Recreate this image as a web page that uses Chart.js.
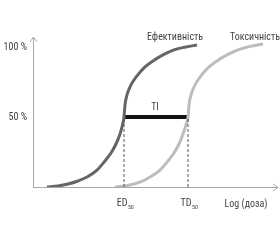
<!DOCTYPE html>
<html>
<head>
<meta charset="utf-8">
<script src="https://cdn.jsdelivr.net/npm/chart.js@4"></script>
<style>
  html, body { margin: 0; padding: 0; background: #fff; }
  #wrap { width: 280px; height: 240px; position: relative; }
</style>
</head>
<body>
<div id="wrap"><canvas id="chart"></canvas></div>
<script>
// --- Dados (log доза, % ефекту) ---
const efficacyX = [1.4, 2.5, 3.5, 4.5, 5.4, 6.4, 7.2, 7.8, 8.3, 8.7, 8.95, 9.1,
                   9.2, 9.4, 9.8, 10.4, 11.1, 12.0, 13.0, 14.1, 15.3, 16.4];
const efficacyY = [0, 0.7, 2.1, 4.3, 7.1, 12.1, 18.6, 24.3, 30.7, 37.9, 44.3, 50,
                   58.6, 65.7, 72.9, 79.3, 85, 90, 94.3, 97.9, 100, 101.4];
const toxicityX = [8.2, 9.2, 10.1, 11.0, 11.7, 12.7, 13.5, 14.1, 14.6, 15.0, 15.3, 15.5,
                   15.6, 15.8, 16.2, 16.8, 17.5, 18.4, 19.4, 20.5, 21.7, 23.0];
const toxicityY = [0, 0.7, 2.1, 4.3, 7.1, 12.1, 18.6, 24.3, 30.7, 37.9, 44.3, 50,
                   58.6, 65.7, 72.9, 79.3, 85, 90, 94.3, 97.9, 100.4, 102.1];
const ed50 = 9.1;
const td50 = 15.5;
const yTicks = [50, 100];
const yTickLabels = ['50 %', '100 %'];
const seriesNames = ['Ефективність', 'Токсичність'];
const xAxisTitle = 'Log (доза)';

const FONT = '"Liberation Sans Narrow", "Roboto Condensed", Roboto, sans-serif';
const toPts = (xs, ys) => xs.map((x, i) => ({ x, y: ys[i] }));

// --- Plugin: eixos com setas e textos ---
const annotations = {
    id: 'annotations',
    afterDatasetsDraw(chart) {
        const { ctx, chartArea: a, scales: { x, y } } = chart;
        const x0 = a.left, y0 = y.getPixelForValue(0);
        ctx.save();
        ctx.strokeStyle = '#a8a8a8';
        ctx.lineWidth = 1;
        ctx.beginPath();
        ctx.moveTo(x0 + 0.5, y0 + 0.5);
        ctx.lineTo(x0 + 0.5, a.top);
        ctx.moveTo(x0 - 3, a.top + 5);
        ctx.lineTo(x0 + 0.5, a.top);
        ctx.lineTo(x0 + 4, a.top + 5);
        ctx.moveTo(x0, y0 + 0.5);
        ctx.lineTo(a.right, y0 + 0.5);
        ctx.moveTo(a.right - 5, y0 - 3);
        ctx.lineTo(a.right, y0 + 0.5);
        ctx.lineTo(a.right - 5, y0 + 4);
        ctx.stroke();

        ctx.fillStyle = '#444';
        ctx.font = '10px ' + FONT;
        ctx.textBaseline = 'middle';
        ctx.textAlign = 'right';
        yTicks.forEach((v, i) => ctx.fillText(yTickLabels[i], x0 - 6, y.getPixelForValue(v) + 1));

        ctx.textAlign = 'center';
        ctx.fillText(seriesNames[0], x.getPixelForValue(efficacyX[efficacyX.length - 1]) - 22, y.getPixelForValue(106.5));
        ctx.fillText(seriesNames[1], x.getPixelForValue(toxicityX[toxicityX.length - 1]) - 8, y.getPixelForValue(106.5));
        ctx.fillText('TI', x.getPixelForValue((ed50 + td50) / 2) - 1, y.getPixelForValue(57));
        ctx.fillText(xAxisTitle, x.getPixelForValue(21.3), y0 + 17);

        const sub = (main, val) => {
            const px = x.getPixelForValue(val);
            ctx.font = '10px ' + FONT;
            const w = ctx.measureText(main).width;
            ctx.font = '6px ' + FONT;
            const ws = ctx.measureText('50').width;
            const left = px - (w + ws) / 2 + 1;
            ctx.textAlign = 'left';
            ctx.font = '10px ' + FONT;
            ctx.fillText(main, left, y0 + 16);
            ctx.font = '6px ' + FONT;
            ctx.fillText('50', left + w + 0.5, y0 + 20);
        };
        sub('ED', ed50);
        sub('TD', td50);
        ctx.restore();
    }
};

new Chart(document.getElementById('chart'), {
    type: 'line',
    data: {
        datasets: [
            { data: [{ x: ed50, y: 0 }, { x: ed50, y: 50 }], borderColor: '#555', borderWidth: 1, borderDash: [3, 2], pointRadius: 0 },
            { data: [{ x: td50, y: 0 }, { x: td50, y: 50 }], borderColor: '#555', borderWidth: 1, borderDash: [3, 2], pointRadius: 0 },
            { label: seriesNames[1], data: toPts(toxicityX, toxicityY), borderColor: '#bdbdbd', borderWidth: 3, pointRadius: 0, cubicInterpolationMode: 'monotone' },
            { label: seriesNames[0], data: toPts(efficacyX, efficacyY), borderColor: '#656565', borderWidth: 3, pointRadius: 0, cubicInterpolationMode: 'monotone' },
            { label: 'TI', data: [{ x: ed50, y: 50 }, { x: td50, y: 50 }], borderColor: '#111', borderWidth: 4, pointRadius: 0 }
        ]
    },
    options: {
        responsive: true,
        maintainAspectRatio: false,
        animation: false,
        parsing: false,
        layout: { padding: { left: 33, right: 2, top: 37, bottom: 53 } },
        scales: {
            x: { type: 'linear', min: 0, max: 24.5, display: false },
            y: { type: 'linear', min: 0, max: 107.1, display: false }
        },
        plugins: { legend: { display: false }, tooltip: { enabled: false } }
    },
    plugins: [annotations]
});
</script>
</body>
</html>
